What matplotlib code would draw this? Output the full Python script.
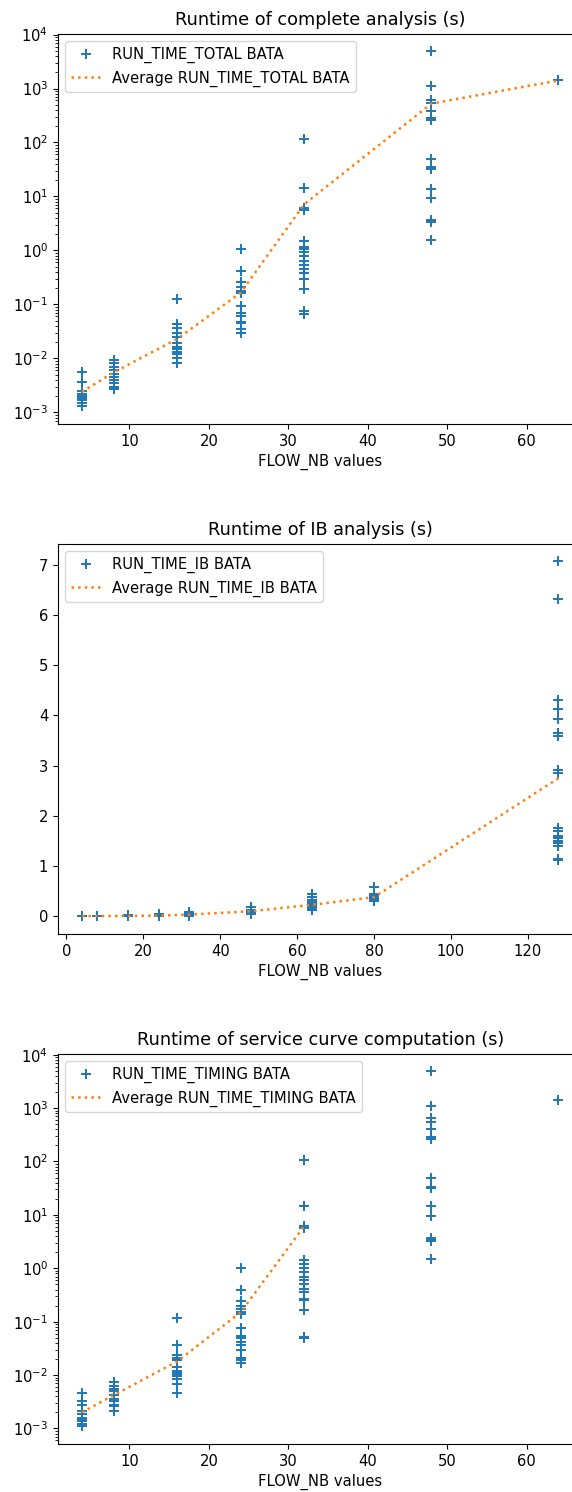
import numpy as np
import matplotlib
matplotlib.use("Agg")
import matplotlib.pyplot as plt

# FLOW_NB groups used in the log-scale runs
flow_nb_log = [4, 8, 16, 24, 32, 48, 64]
# FLOW_NB groups used in the IB runs
flow_nb_ib = [4, 8, 16, 24, 32, 48, 64, 80, 128]

# RUN_TIME_TOTAL (s), one list per FLOW_NB group
run_time_total = [
    [0.0055, 0.0037, 0.0036, 0.0025, 0.0022, 0.0020, 0.0019, 0.0018, 0.0017, 0.0015, 0.0013],
    [0.0093, 0.0082, 0.0069, 0.0060, 0.0052, 0.0045, 0.0040, 0.0035, 0.0030, 0.0027],
    [0.125, 0.043, 0.036, 0.029, 0.025, 0.019, 0.016, 0.015, 0.013, 0.012, 0.010, 0.0081],
    [1.05, 0.41, 0.26, 0.21, 0.18, 0.16, 0.095, 0.068, 0.060, 0.048, 0.045, 0.035, 0.030],
    [114, 14.5, 6.0, 5.5, 1.5, 1.15, 1.07, 0.93, 0.78, 0.64, 0.54, 0.46, 0.39, 0.30, 0.29,
     0.19, 0.076, 0.066],
    [4900, 1120, 620, 540, 380, 290, 260, 50, 35, 32, 14, 9.4, 3.6, 3.4, 1.53],
    [1410],
]
avg_run_time_total = [0.0024, 0.0055, 0.023, 0.165, 7.2, 525, 1410]

# RUN_TIME_IB (s)
run_time_ib = [
    [0.002, 0.001],
    [0.005, 0.003],
    [0.02, 0.01, 0.005],
    [0.04, 0.02, 0.01, 0.005],
    [0.08, 0.05, 0.04, 0.03, 0.02, 0.01],
    [0.18, 0.13, 0.11, 0.10, 0.09, 0.08, 0.05],
    [0.45, 0.38, 0.32, 0.28, 0.25, 0.22, 0.20, 0.18, 0.15, 0.12],
    [0.58, 0.45, 0.42, 0.40, 0.38, 0.36, 0.34, 0.32, 0.30],
    [7.07, 6.32, 4.30, 4.12, 3.92, 3.65, 3.60, 2.92, 2.85, 1.75, 1.70, 1.60, 1.55, 1.50,
     1.45, 1.40, 1.15, 1.12],
]
avg_run_time_ib = [0.002, 0.004, 0.007, 0.015, 0.035, 0.10, 0.23, 0.38, 2.75]

# RUN_TIME_TIMING (s)
run_time_timing = [
    [0.0047, 0.0032, 0.0028, 0.0021, 0.0019, 0.0016, 0.0015, 0.0014, 0.0012, 0.0011],
    [0.0073, 0.0063, 0.0055, 0.0050, 0.0042, 0.0036, 0.0032, 0.0028, 0.0026, 0.0021],
    [0.115, 0.036, 0.024, 0.021, 0.019, 0.014, 0.012, 0.011, 0.0105, 0.0097, 0.0085,
     0.0068, 0.0046],
    [1.0, 0.40, 0.24, 0.20, 0.17, 0.15, 0.14, 0.075, 0.055, 0.050, 0.042, 0.036, 0.030,
     0.021, 0.019, 0.017],
    [107, 14.7, 6.3, 5.8, 1.45, 1.2, 1.0, 0.84, 0.70, 0.61, 0.50, 0.41, 0.36, 0.27, 0.25,
     0.167, 0.051, 0.049],
    [4900, 1100, 640, 550, 400, 290, 260, 50, 33, 32, 14.5, 9.7, 3.7, 3.4, 3.3, 1.5],
    [1400],
]
avg_run_time_timing = [0.0020, 0.0042, 0.018, 0.15, 6.2, np.nan, np.nan]


def flatten(groups, runs):
    xs, ys = [], []
    for g, vals in zip(groups, runs):
        xs.extend([g] * len(vals))
        ys.extend(vals)
    return xs, ys


plt.rcParams["font.size"] = 10.6
plt.rcParams["axes.titlesize"] = 12.7

W, H = 572, 1492
fig = plt.figure(figsize=(W / 100, H / 100), dpi=100)

left = 58 / W
width = 524.3 / W
height = 390.5 / H
panels = [
    (424, "Runtime of complete analysis (s)", flow_nb_log, run_time_total,
     avg_run_time_total, "RUN_TIME_TOTAL BATA", True),
    (934, "Runtime of IB analysis (s)", flow_nb_ib, run_time_ib,
     avg_run_time_ib, "RUN_TIME_IB BATA", False),
    (1444, "Runtime of service curve computation (s)", flow_nb_log, run_time_timing,
     avg_run_time_timing, "RUN_TIME_TIMING BATA", True),
]

for bottom_px, title, groups, runs, avg, name, logy in panels:
    ax = fig.add_axes([left, 1 - bottom_px / H, width, height])
    xs, ys = flatten(groups, runs)
    ax.plot(xs, ys, "+", color="C0", markersize=7.5, markeredgewidth=1.4, label=name)
    ax.plot(groups, avg, ":", color="C1", linewidth=1.8, label="Average " + name)
    if logy:
        ax.set_yscale("log")
    ax.set_title(title)
    ax.set_xlabel("FLOW_NB values")
    ax.legend(loc="upper left")

fig.savefig("out.png", dpi=100)
